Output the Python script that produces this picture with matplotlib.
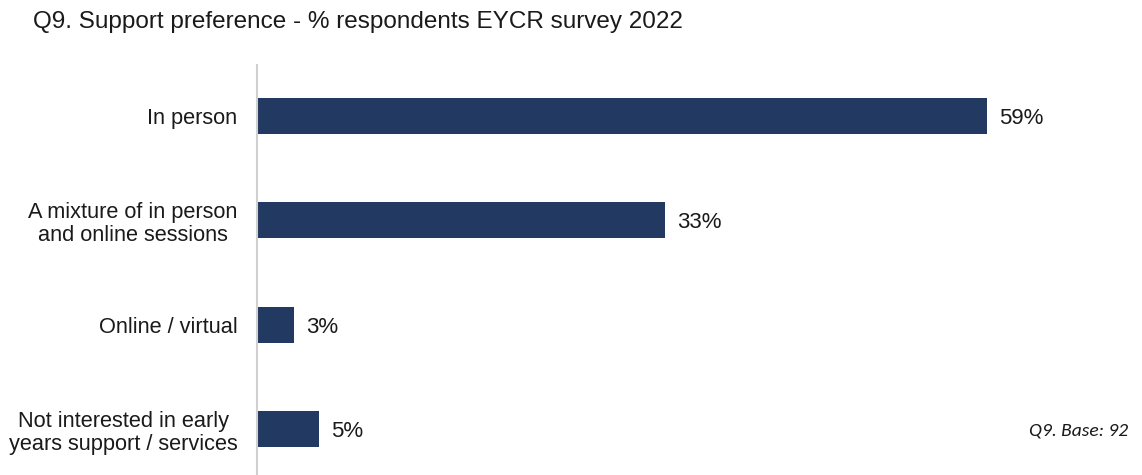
import matplotlib.pyplot as plt

# data
categories = ['In person', 'A mixture of in person\nand online sessions',
              'Online / virtual', 'Not interested in early\nyears support / services']
values = [59, 33, 3, 5]

bar_color = '#223962'

W, H = 1142, 475
fig = plt.figure(figsize=(W / 100, H / 100), dpi=100)
plt.rcParams['font.family'] = ['Liberation Sans', 'DejaVu Sans']

# axes placed in pixel terms
left, right, top, bottom = 257, 1142, 65, 475
ax = fig.add_axes([left / W, 1 - bottom / H, (right - left) / W, (bottom - top) / H])

y = list(range(len(categories)))
ax.barh(y, values, height=0.345, color=bar_color)
ax.set_ylim(3.44, -0.49)
ax.set_xlim(0, (right - left) / 12.37)

for yi, v in zip(y, values):
    ax.text(v + 0.95, yi, f'{v}%', va='center_baseline', ha='left', fontsize=16, color='#1a1a1a')

ax.set_yticks(y)
ax.set_yticklabels(categories, fontsize=15.7, color='#1a1a1a', multialignment='center',
                   linespacing=1.15)
ax.tick_params(axis='y', length=0, pad=14)
ax.set_xticks([])
for s in ['top', 'right', 'bottom']:
    ax.spines[s].set_visible(False)
ax.spines['left'].set_color('#d0d0d0')
ax.spines['left'].set_linewidth(1.5)

fig.text(33 / W, 1 - 22 / H, 'Q9. Support preference - % respondents EYCR survey 2022',
         fontsize=17.5, va='center', ha='left', color='#1a1a1a')
fig.text(1128 / W, 1 - 431 / H, 'Q9. Base: 92', fontsize=14, style='italic',
         va='center', ha='right', family=['Carlito', 'Lato', 'DejaVu Sans'], color='#1a1a1a')

fig.savefig('out.png', dpi=100)
